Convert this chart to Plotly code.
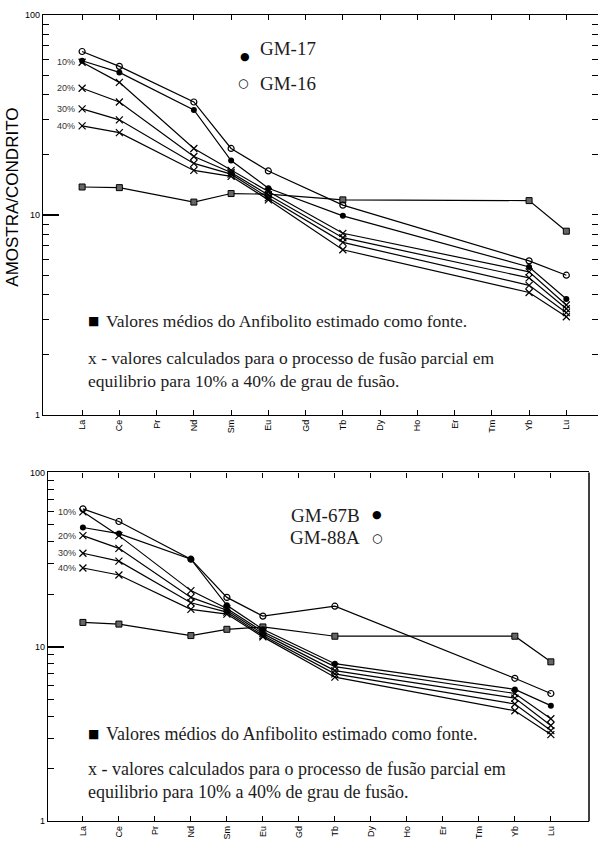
import math
import plotly.graph_objects as go

# ---------------- data ----------------
REE = ['La', 'Ce', 'Pr', 'Nd', 'Sm', 'Eu', 'Gd', 'Tb', 'Dy', 'Ho', 'Er', 'Tm', 'Yb', 'Lu']
measured = ['La', 'Ce', 'Nd', 'Sm', 'Eu', 'Tb', 'Yb', 'Lu']

# top diagram
anf_top = [13.8, 13.7, 11.6, 12.8, 12.7, 11.9, 11.8, 8.3]
gm16 = [65.6, 55.3, 36.7, 21.5, 16.6, 11.2, 5.9, 5.0]
gm17 = [59.0, 51.6, 33.5, 18.7, 13.6, 9.9, 5.5, 3.8]
fus10_top = [58.0, 46.0, 21.5, 16.7, 13.1, 8.1, 5.2, 3.55]
fus20_top = [43.0, 36.7, 19.6, 16.3, 12.6, 7.7, 4.85, 3.4]
fus30_top = [33.9, 29.9, 18.1, 16.0, 12.2, 7.3, 4.45, 3.25]
fus40_top = [27.9, 25.8, 16.7, 15.6, 11.9, 6.7, 4.1, 3.1]

# bottom diagram
anf_bot = [13.8, 13.5, 11.6, 12.6, 13.0, 11.5, 11.5, 8.2]
gm88a = [61.8, 52.3, 31.8, 19.2, 15.0, 17.1, 6.6, 5.4]
gm67b = [48.3, 44.6, 31.8, 17.3, 12.6, 8.0, 5.7, 4.6]
fus10_bot = [59.4, 43.4, 21.0, 16.6, 12.2, 7.7, 5.4, 3.87]
fus20_bot = [43.4, 36.7, 19.2, 16.2, 11.9, 7.3, 5.08, 3.54]
fus30_bot = [34.4, 31.0, 17.9, 15.8, 11.6, 7.0, 4.7, 3.31]
fus40_bot = [28.3, 25.8, 16.4, 15.4, 11.4, 6.7, 4.3, 3.14]

pct_labels = ['10%', '20%', '30%', '40%']
y_ticks = [1, 10, 100]
minor_ticks = [2, 3, 4, 5, 6, 7, 8, 9, 20, 30, 40, 50, 60, 70, 80, 90]
title_y = 'AMOSTRA/CONDRITO'
note1 = 'Valores médios do Anfibolito estimado como fonte.'
note2 = 'x - valores calculados para o processo de fusão parcial em'
note3 = 'equilibrio para 10% a 40% de grau de fusão.'

W, H = 601, 845
def px(x):
    return x / W
def py(y):
    return 1 - y / H

SERIF = 'Liberation Serif'
SANS = 'Liberation Sans'
TXT = '#1c1c1c'

fig = go.Figure()

def add_panel(xa, ya, anf, s_open, s_filled, fus_list):
    line = dict(color='black', width=1.2)
    fig.add_trace(go.Scatter(x=measured, y=anf, xaxis=xa, yaxis=ya, mode='lines+markers',
                             line=line, marker=dict(symbol='square', size=6, color='#666',
                                                    line=dict(color='black', width=1)),
                             showlegend=False))
    for f in fus_list:
        fig.add_trace(go.Scatter(x=measured, y=f, xaxis=xa, yaxis=ya, mode='lines+markers',
                                 line=line, marker=dict(symbol='x-thin', size=7,
                                                        line=dict(color='black', width=1.2)),
                                 showlegend=False))
    fig.add_trace(go.Scatter(x=measured, y=s_filled, xaxis=xa, yaxis=ya, mode='lines+markers',
                             line=line, marker=dict(symbol='circle', size=6, color='black'),
                             showlegend=False))
    fig.add_trace(go.Scatter(x=measured, y=s_open, xaxis=xa, yaxis=ya, mode='lines+markers',
                             line=line, marker=dict(symbol='circle-open', size=6, color='black',
                                                    line=dict(width=1.2)),
                             showlegend=False))
    for lab, f in zip(pct_labels, fus_list):
        fig.add_annotation(x='La', y=math.log10(f[0]), xref=xa, yref=ya, text=lab,
                           showarrow=False, xanchor='right', yanchor='middle', xshift=-5,
                           font=dict(family=SANS, size=9, color='#333'))

add_panel('x', 'y', anf_top, gm16, gm17, [fus10_top, fus20_top, fus30_top, fus40_top])
add_panel('x2', 'y2', anf_bot, gm88a, gm67b, [fus10_bot, fus20_bot, fus30_bot, fus40_bot])

# carrier for the right-hand tick axis of the top panel (not drawn)
fig.add_trace(go.Scatter(x=measured, y=anf_top, xaxis='x', yaxis='y3', mode='none',
                         hoverinfo='skip', showlegend=False))

minor_cfg = dict(ticks='inside', ticklen=6, tickwidth=1.3, tickcolor='black',
                 tickmode='array', tickvals=minor_ticks, showgrid=False)

xcommon = dict(type='category', categoryorder='array', categoryarray=REE,
               showline=True, linecolor='black', linewidth=1.3, mirror='ticks',
               ticks='inside', ticklen=5, tickwidth=1.2, tickcolor='black', tickangle=-90,
               tickfont=dict(family=SANS, size=9, color='black'), showgrid=False, zeroline=False)
ycommon = dict(type='log', range=[0, 2], tickmode='array', tickvals=y_ticks,
               ticktext=[str(v) for v in y_ticks],
               showline=True, linecolor='black', linewidth=1.3,
               ticks='inside', ticklen=16, tickwidth=1.5, tickcolor='black', minor=minor_cfg,
               tickfont=dict(family=SANS, size=9, color='black'), showgrid=False, zeroline=False)

fig.update_layout(
    width=W, height=H, margin=dict(l=0, r=0, t=0, b=0),
    paper_bgcolor='white', plot_bgcolor='white', showlegend=False,
    xaxis=dict(xcommon, domain=[px(43), px(598)], range=[-1.05, 13.85], anchor='y'),
    yaxis=dict(ycommon, domain=[py(415), py(10)], anchor='x'),
    yaxis3=dict(type='log', range=[0, 2], overlaying='y', side='right', anchor='x',
                showline=False, ticks='inside', ticklen=6, tickwidth=1.3, tickcolor='black',
                tickmode='array', tickvals=y_ticks, showticklabels=False,
                showgrid=False, zeroline=False, minor=minor_cfg),
    xaxis2=dict(xcommon, domain=[px(48), px(589)], range=[-0.97, 14.06], anchor='y2'),
    yaxis2=dict(ycommon, domain=[py(826), py(473)], anchor='x2'),
)

# right border of the lower panel
fig.add_shape(type='line', xref='x2 domain', yref='y2 domain', x0=1, x1=1, y0=0, y1=1,
              line=dict(color='black', width=1.5))

def ann(x, y, text, font, xanchor='left', **kw):
    fig.add_annotation(x=px(x), y=py(y), xref='paper', yref='paper', text=text,
                       showarrow=False, xanchor=xanchor, yanchor='middle', font=font, **kw)

# y title (top panel only)
ann(13, 195, title_y, dict(family=SANS, size=17, color='black'), xanchor='center', textangle=-90)

def legend_entry(xt, yt, text, filled, xm, ym, anchor='left'):
    ann(xt, yt, text, dict(family=SERIF, size=19, color=TXT), xanchor=anchor)
    ann(xm, ym, '●' if filled else '○',
        dict(family='DejaVu Sans', size=11 if filled else 12, color='black'), xanchor='center')

legend_entry(258, 44, 'GM-17', True, 245, 52)
legend_entry(258, 79, 'GM-16', False, 243, 79)
legend_entry(362, 517, 'GM-67B', True, 377, 516, anchor='right')
legend_entry(362, 539, 'GM-88A', False, 377, 539, anchor='right')

def notes(y1, y2, y3, size):
    ann(86, y1, '■', dict(family='DejaVu Sans', size=12, color='black'))
    ann(104, y1, note1, dict(family=SERIF, size=size, color=TXT))
    ann(86, y2, note2, dict(family=SERIF, size=size, color=TXT))
    ann(86, y3, note3, dict(family=SERIF, size=size, color=TXT))

notes(320, 357, 381, 17.5)
notes(738, 773, 796, 18)

fig.write_html('out.html', config={'displayModeBar': False},
               post_script="document.body.style.margin='0';document.body.style.overflow='hidden';")
